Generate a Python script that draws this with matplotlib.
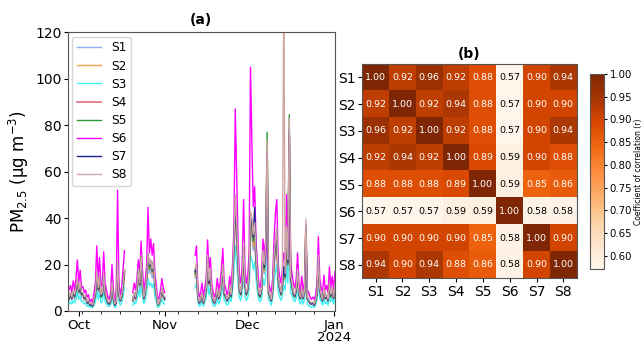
import numpy as np
import pandas as pd
import matplotlib
matplotlib.use("Agg")
import matplotlib.pyplot as plt
import matplotlib.dates as mdates

# ---------------- data ----------------
sensors = ["S1", "S2", "S3", "S4", "S5", "S6", "S7", "S8"]
seg_starts = ["2023-09-27 00:00", "2023-10-20 12:00", "2023-11-12 00:00"]
seg_lengths = [42, 24, 102]          # 12-hourly samples per segment
month_ticks = ["2023-10-01", "2023-11-01", "2023-12-01", "2024-01-01"]
month_labels = ["Oct", "Nov", "Dec", "Jan\n2024"]
y_ticks = [0, 20, 40, 60, 80, 100, 120]

S1 = [6, 4.5, 6, 4.5, 7, 5, 8, 11, 7, 9.5, 6, 6, 4.5, 5.5, 3, 4, 2, 3, 2, 4, 6, 13, 8, 12, 5.5, 6, 13, 6, 4.5, 3, 3, 4, 9.5, 4.5, 2.5, 3, 17, 6, 4, 5.5, 9, 14,
      4, 6, 4.5, 8, 14, 9, 19, 9, 4.5, 7, 12, 20, 16, 18, 14, 18, 9, 6, 2.5, 3, 4.5, 8, 5.5, 4.5,
      14, 17, 5.5, 3, 4, 6.5, 3, 5.5, 8, 19, 10.5, 14, 6.5, 4, 3, 5, 8, 5, 6.5, 10.5,
      16, 6.5, 5.5, 4, 5, 9, 5.5, 12, 24, 40, 30, 17.5, 8, 6.5, 11, 24, 9.5, 6.5, 8, 14.5,
      34, 32, 26, 30, 20, 12, 6.5, 5.5, 8, 21, 16, 22, 59, 7, 5.5, 4, 8, 19, 24, 29,
      12, 9, 6.5, 9.5, 16, 13, 29, 17.5, 66, 12, 9.5, 6.5, 5.5, 8, 14.5, 6.5, 5, 8, 5, 7,
      31.5, 5, 4, 3, 3, 3, 2.5, 4, 6.5, 19, 8, 5.5, 4, 8, 5, 5.5, 4, 9.5, 5.5, 8, 5, 9.5]
S2 = [7, 5.5, 7, 5, 8, 6, 9, 12, 8, 11, 7, 7, 5, 6, 3.5, 4.5, 2.5, 3, 2, 4.5, 7, 15, 9, 13, 6, 7, 14, 7, 5, 3.5, 3, 4.5, 10, 5, 2.5, 3.5, 19, 7, 4.5, 6, 10, 16,
      4.5, 7, 5, 9, 16, 10.5, 21, 10.5, 5, 8, 13, 22, 18, 19.5, 16, 19.5, 10.5, 7, 2.5, 3, 5, 9, 6, 5,
      15, 18, 6, 3.5, 4.5, 7, 3.5, 6, 8.5, 20, 11, 15, 7, 4.5, 3.5, 5, 8.5, 5, 7, 11,
      17, 7, 6, 4.5, 5, 9.5, 6, 13, 25.5, 42, 32, 19, 8.5, 7, 12, 25.5, 10, 7, 8.5, 15,
      36, 34, 28, 32, 21, 13, 7, 6, 8.5, 22, 17, 24, 62, 7.5, 6, 4.5, 8.5, 20, 25.5, 30.5,
      13, 9.5, 7, 10, 17, 13.5, 30.5, 19, 70, 13, 10, 7, 6, 8.5, 15, 7, 5, 8.5, 5, 7.5,
      33.5, 5, 4.5, 3.5, 3, 3.5, 2.5, 4.5, 7, 20, 8.5, 6, 4.5, 8.5, 5, 6, 4.5, 10, 6, 8.5, 5, 10]
S3 = [3.5, 3, 4, 3, 4.5, 3.5, 5, 8, 5, 6.5, 4, 4, 3, 3.5, 2, 2.5, 1.5, 2, 1.5, 2.5, 4, 9, 5, 8, 3.5, 4, 9, 4, 3, 2, 2, 2.5, 6, 3, 1.5, 2, 12, 4, 2.5, 3.5, 6, 10,
      2.5, 4, 3, 5, 9, 6, 12, 6, 3, 4.5, 8, 14, 11, 12, 10, 12, 6, 4, 1.5, 2, 3, 5, 3.5, 3,
      10, 12, 4, 2, 2.5, 4.5, 2, 4, 5.5, 13, 7, 10, 4.5, 2.5, 2, 3, 5.5, 3, 4.5, 7,
      11, 4.5, 4, 2.5, 3, 6, 4, 8, 17, 28, 21, 12, 5.5, 4.5, 8, 17, 6.5, 4.5, 5.5, 10,
      24, 22, 18, 21, 14, 8, 4.5, 4, 5.5, 14, 11, 15, 38, 5, 4, 2.5, 5.5, 13, 17, 20,
      8, 6, 4.5, 6.5, 11, 9, 20, 12, 42, 8, 6.5, 4.5, 4, 5.5, 10, 4.5, 3, 5.5, 3, 5,
      21, 3, 2.5, 2, 1.5, 2, 1.5, 2.5, 4.5, 13, 5.5, 4, 2.5, 5.5, 3, 4, 2.5, 6.5, 4, 5.5, 3, 6.5]
S4 = [7.5, 6, 7.5, 5.5, 8.5, 6.5, 9.5, 13, 8.5, 11.5, 7.5, 7.5, 5.5, 6.5, 3.5, 4.5, 3, 3, 2.5, 4.5, 7.5, 16, 9.5, 14, 6.5, 7.5, 15, 7.5, 5.5, 4, 3, 4.5, 11, 5.5, 3, 3.5, 20, 7.5, 4.5, 6.5, 11, 17,
      4.5, 7.5, 5.5, 9.5, 17, 11, 22.5, 11, 5.5, 8.5, 14, 23.5, 19, 20.5, 17, 20.5, 11, 7.5, 3, 3.5, 5.5, 9.5, 6.5, 5.5,
      16, 19, 6.5, 3.5, 4.5, 7, 3.5, 6.5, 9, 21.5, 11.5, 16, 7, 4.5, 3.5, 5.5, 9, 5.5, 7, 11.5,
      18, 7, 6.5, 4.5, 5.5, 10, 6.5, 13.5, 27, 45, 34, 20, 9, 7, 12.5, 27, 11, 7, 9, 16,
      39, 36, 30, 34, 22.5, 13.5, 7, 6.5, 9, 23.5, 18, 25, 66, 8, 6.5, 4.5, 9, 21.5, 27, 32.5,
      13.5, 10, 7, 11, 18, 14.5, 32.5, 20, 75, 13.5, 11, 7, 6.5, 9, 16, 7, 5.5, 9, 5.5, 8,
      35.5, 5.5, 4.5, 3.5, 3, 3.5, 2.5, 4.5, 7, 21.5, 9, 6.5, 4.5, 9, 5.5, 6.5, 4.5, 11, 6.5, 9, 5.5, 11]
S5 = [7, 5, 7, 5.5, 8, 6, 9, 13, 8, 11, 7, 7.5, 5.5, 6, 3.5, 4, 2.5, 3, 2, 4, 7, 15, 9, 13, 6, 7, 15, 7, 5, 3.5, 3, 4, 11, 5, 2.5, 3.5, 20, 7, 4.5, 6, 11, 16,
      4.5, 7, 5.5, 9, 17, 11, 23, 11, 5.5, 8, 14, 24, 18, 21, 17, 21, 11, 7, 2.5, 3, 5.5, 9, 6.5, 5,
      16, 19, 6, 3.5, 4.5, 7, 3.5, 6, 9, 22, 12, 16, 7, 4.5, 3.5, 5.5, 9, 5.5, 7, 12,
      18, 7, 6, 4.5, 5.5, 10, 6, 13, 27, 45, 34, 20, 9, 7, 12.5, 27, 11, 7, 9, 16,
      39, 36, 30, 34, 22, 13.5, 7, 6, 9, 23, 18, 25, 77, 8, 6, 4.5, 9, 22, 27, 32,
      13.5, 10, 7, 11, 18, 14.5, 32, 20, 84.5, 13.5, 11, 7, 6, 9, 16, 7, 5.5, 9, 5.5, 8,
      35, 5.5, 4.5, 3.5, 3, 3.5, 2.5, 4.5, 7, 21.5, 9, 6, 4.5, 9, 5.5, 6, 4.5, 11, 6, 9, 5.5, 11]
S6 = [12, 9, 11, 8, 13, 9, 14, 22, 12, 17.6, 10, 10.5, 8, 9, 6, 7, 4, 5, 3.5, 8, 12, 28, 14, 23, 10.5, 12, 25.5, 12, 9, 6, 5, 8, 20, 9, 4, 6, 52, 12, 7, 10, 18, 26,
      8, 12, 9, 14, 22, 16, 30, 18, 9, 13, 20, 44.6, 25, 31, 24, 29, 16, 11, 5, 6, 9, 14, 10, 8,
      24, 28, 10, 6, 8, 12, 6, 10, 14, 30.6, 18, 23, 12, 8, 6, 8, 14, 9, 12, 18,
      27, 12, 10, 7, 9, 15, 10, 20, 35, 87, 58, 30, 15, 12, 20, 48, 18, 12, 15, 25,
      105, 72, 45, 53.5, 30, 20, 12, 10, 15, 31, 24, 31, 25, 12, 10, 8, 14, 31, 42, 48,
      20, 15, 12, 18, 25, 22, 50, 30, 40, 20, 16, 12, 10, 14, 25, 12, 8, 15, 9, 12,
      28, 9, 8, 6, 5, 6, 5, 7, 12, 32, 14, 10, 8, 15.5, 9, 11, 8, 19, 10, 15, 9, 17]
S7 = [7, 5.5, 7.5, 5.5, 8.5, 6.5, 9.5, 13.5, 8.5, 11, 7.5, 7.5, 5.5, 6.5, 3.5, 4.5, 2.5, 3, 2, 4.5, 7.5, 16, 9.5, 14.5, 6.5, 7.5, 15.5, 7.5, 5.5, 3.5, 3, 4.5, 11.5, 5.5, 2.5, 3.5, 21, 7.5, 4.5, 6.5, 11.5, 17.5,
      5, 7.5, 5.5, 9.5, 17.5, 11.5, 23.5, 11.5, 5.5, 8.5, 14.5, 24.5, 19.5, 21.5, 17.5, 21.5, 11.5, 7.5, 3, 3.5, 6, 9.5, 6.5, 5.5,
      17, 20, 6.5, 3.5, 4.5, 7.5, 3.5, 6.5, 9.5, 23, 12, 17, 7.5, 4.5, 3.5, 5.5, 9.5, 5.5, 7.5, 12,
      19, 7.5, 6.5, 4.5, 5.5, 10, 6.5, 14, 28, 47, 36, 21, 9.5, 7.5, 13, 28, 11, 7.5, 9.5, 17,
      41, 38, 32, 44.6, 24, 14, 7.5, 6.5, 9.5, 25, 19, 27, 68, 8.5, 6.5, 4.5, 9.5, 23, 29, 35,
      14, 10, 7.5, 11, 19, 15, 34, 21, 78, 14, 11, 7.5, 6.5, 9.5, 17, 7.5, 5.5, 9.5, 5.5, 8.5,
      37, 5.5, 4.5, 3.5, 3, 3.5, 2.5, 4.5, 7.5, 23, 9.5, 6.5, 4.5, 9.5, 5.5, 6.5, 4.5, 11, 6.5, 9.5, 5.5, 11.5]
S8 = [8, 6, 8, 6, 9, 7, 10, 14, 9, 12, 8, 8, 6, 7, 4, 5, 3, 3.5, 2.5, 5, 8, 17, 10, 15, 7, 8, 16, 8, 6, 4, 3.5, 5, 12, 6, 3, 4, 22, 8, 5, 7, 12, 18,
      5, 8, 6, 10, 18, 12, 24, 12, 6, 9, 15, 25, 20, 22, 18, 22, 12, 8, 3, 3.5, 6, 10, 7, 6,
      18, 21, 7, 4, 5, 8, 4, 7, 10, 24, 13, 18, 8, 5, 4, 6, 10, 6, 8, 13,
      20, 8, 7, 5, 6, 11, 7, 15, 30, 50, 38, 22, 10, 8, 14, 30, 12, 8, 10, 18,
      43, 40, 33, 38, 25, 15, 8, 7, 10, 26, 20, 28, 73.5, 9, 7, 5, 10, 24, 30, 36,
      15, 11, 8, 12, 140, 16, 36, 22, 83, 15, 12, 8, 7, 10, 18, 8, 6, 10, 6, 9,
      39.5, 6, 5, 4, 3.5, 4, 3, 5, 8, 24, 10, 7, 5, 10, 6, 7, 5, 12, 7, 10, 6, 12]

corr = [
    [1.00, 0.92, 0.96, 0.92, 0.88, 0.57, 0.90, 0.94],
    [0.92, 1.00, 0.92, 0.94, 0.88, 0.57, 0.90, 0.90],
    [0.96, 0.92, 1.00, 0.92, 0.88, 0.57, 0.90, 0.94],
    [0.92, 0.94, 0.92, 1.00, 0.89, 0.59, 0.90, 0.88],
    [0.88, 0.88, 0.88, 0.89, 1.00, 0.59, 0.85, 0.86],
    [0.57, 0.57, 0.57, 0.59, 0.59, 1.00, 0.58, 0.58],
    [0.90, 0.90, 0.90, 0.90, 0.85, 0.58, 1.00, 0.90],
    [0.94, 0.90, 0.94, 0.88, 0.86, 0.58, 0.90, 1.00],
]
cbar_ticks = [0.60, 0.65, 0.70, 0.75, 0.80, 0.85, 0.90, 0.95, 1.00]

colors = ["#8db1ee", "#f5a04a", "#3ff2f2", "#e8808f", "#2f9a3a", "#ff00ff", "#1e1e8e", "#d0a5a5"]
widths = [1.0, 1.0, 1.0, 1.4, 1.0, 1.0, 1.0, 1.0]

# ---------------- build time axis with gaps ----------------
series = [S1, S2, S3, S4, S5, S6, S7, S8]
times = [pd.date_range(st, periods=n, freq="12h") for st, n in zip(seg_starts, seg_lengths)]
idx_parts = []
val_parts = [[] for _ in series]
pos = 0
for i, rng in enumerate(times):
    n = len(rng)
    idx_parts.extend(list(rng))
    for j, s in enumerate(series):
        val_parts[j].extend(s[pos:pos + n])
    pos += n
    if i < len(times) - 1:
        idx_parts.append(rng[-1] + pd.Timedelta(hours=6))
        for j in range(len(series)):
            val_parts[j].append(np.nan)
tindex = pd.DatetimeIndex(idx_parts)

# ---------------- figure ----------------
fig = plt.figure(figsize=(6.41, 3.45), dpi=100)
ax1 = fig.add_axes([0.1056, 0.0986, 0.417, 0.8078])
ax2 = fig.add_axes([0.5652, 0.1933, 0.3345, 0.6212])
cax = fig.add_axes([0.9204, 0.2194, 0.0218, 0.566])

for j, name in enumerate(sensors):
    ax1.plot(tindex, val_parts[j], color=colors[j], lw=widths[j], label=name)

ax1.set_ylim(0, 120)
ax1.set_yticks(y_ticks)
ax1.set_xlim(tindex[0], tindex[-1])
ax1.set_xticks(pd.to_datetime(month_ticks))
ax1.set_xticklabels(month_labels)
ax1.xaxis.set_minor_locator(mdates.WeekdayLocator(byweekday=mdates.MO))
ax1.tick_params(axis="y", which="major", labelsize=10, length=3, pad=1.5)
ax1.tick_params(axis="x", which="major", labelsize=9.6, pad=2)
for lab in ax1.get_xticklabels():
    lab.set_linespacing(0.95)
ax1.set_ylabel("PM$_{2.5}$ (μg m$^{-3}$)", fontsize=12, labelpad=3)
ax1.set_title("(a)", fontweight="bold", fontsize=10)
for sp in ax1.spines.values():
    sp.set_color("#555555")
leg = ax1.legend(loc="upper left", fontsize=8.8, labelspacing=0.42, handlelength=2.0,
                 borderaxespad=0.35)

# heatmap
cm = np.array(corr)
im = ax2.imshow(cm, cmap="Oranges", vmin=cm.min(), vmax=1.0, aspect="auto")
for r in range(cm.shape[0]):
    for c in range(cm.shape[1]):
        v = cm[r, c]
        ax2.text(c, r, f"{v:.2f}", ha="center", va="center", fontsize=6.8,
                 color="white" if v > 0.7 else "black")
ax2.set_xticks(range(len(sensors)))
ax2.set_yticks(range(len(sensors)))
ax2.set_xticklabels(sensors, fontsize=10)
ax2.set_yticklabels(sensors, fontsize=10)
ax2.tick_params(length=3, pad=2)
ax2.set_title("(b)", fontweight="bold", fontsize=10, pad=4)
for sp in ax2.spines.values():
    sp.set_color("#555555")

cb = fig.colorbar(im, cax=cax, ticks=cbar_ticks)
cb.ax.set_yticklabels([f"{t:.2f}" for t in cbar_ticks])
cb.ax.tick_params(labelsize=7.3, length=2.5, pad=1.5)
cb.set_label("Coefficient of correlation (r)", fontsize=5.5, labelpad=1)
cb.outline.set_edgecolor("#555555")

fig.savefig("out.png", dpi=100)
